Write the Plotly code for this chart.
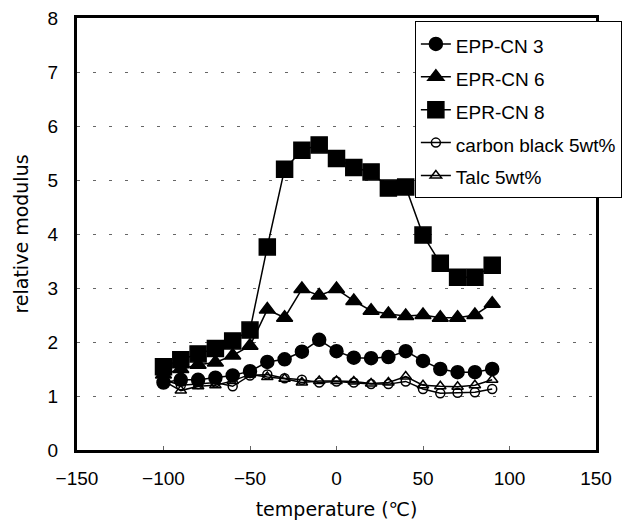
import plotly.graph_objects as go

temps = [-100, -90, -80, -70, -60, -50, -40, -30, -20, -10, 0, 10, 20, 30, 40, 50, 60, 70, 80, 90]
epp_cn3 = [1.25, 1.3, 1.3, 1.34, 1.38, 1.46, 1.63, 1.68, 1.82, 2.04, 1.83, 1.71, 1.7, 1.72, 1.83, 1.65, 1.5, 1.44, 1.44, 1.5]
epr_cn6 = [1.4, 1.5, 1.58, 1.62, 1.75, 1.93, 2.6, 2.45, 2.98, 2.86, 2.98, 2.76, 2.58, 2.52, 2.48, 2.5, 2.45, 2.45, 2.5, 2.71]
epr_cn8 = [1.54, 1.67, 1.78, 1.88, 2.02, 2.22, 3.76, 5.2, 5.55, 5.65, 5.4, 5.23, 5.15, 4.85, 4.87, 3.98, 3.46, 3.2, 3.2, 3.42]
carbon_black = [1.3, 1.2, 1.22, 1.25, 1.18, 1.38, 1.4, 1.33, 1.3, 1.25, 1.27, 1.25, 1.22, 1.22, 1.27, 1.13, 1.05, 1.06, 1.07, 1.13]
talc = [1.28, 1.1, 1.18, 1.2, 1.28, 1.4, 1.35, 1.32, 1.25, 1.28, 1.28, 1.27, 1.23, 1.25, 1.36, 1.2, 1.18, 1.17, 1.2, 1.3]

names = ["EPP-CN 3", "EPR-CN 6", "EPR-CN 8", "carbon black 5wt%", "Talc 5wt%"]
series = [epp_cn3, epr_cn6, epr_cn8, carbon_black, talc]
symbols = ["circle", "triangle-up", "square", "circle-open", "triangle-up-open"]
sizes = [13, 14, 16, 9, 10]

fig = go.Figure()
for name, ys, sym, sz in zip(names, series, symbols, sizes):
    fig.add_trace(go.Scatter(
        x=temps, y=ys,
        name='<span style="font-size:19px">' + name + "</span>",
        mode="lines+markers",
        line=dict(color="black", width=1.5),
        marker=dict(symbol=sym, size=sz, color="black",
                    line=dict(color="black", width=1.5)),
    ))

font = "Liberation Sans, Arial, sans-serif"
title_font = "DejaVu Sans, Liberation Sans, sans-serif"
fig.update_layout(
    width=639, height=524,
    margin=dict(l=77, r=43, t=18, b=74),
    plot_bgcolor="white", paper_bgcolor="white",
    font=dict(family=font, size=19, color="black"),
    showlegend=True,
    legend=dict(x=0.651, y=0.992, xanchor="left", yanchor="top",
                bgcolor="white", bordercolor="black", borderwidth=1,
                font=dict(size=23, family=font), tracegroupgap=0),
    xaxis=dict(range=[-150, 150], tickvals=[-150, -100, -50, 0, 50, 100, 150],
               ticktext=["\u2212150", "\u2212100", "\u221250", "0", "50", "100", "150"],
               showgrid=False, zeroline=False, automargin=False,
               showline=True, linecolor="black", linewidth=3, mirror=True,
               ticks="inside", ticklen=4, tickcolor="#666666", tickwidth=1,
               ticklabelstandoff=9,
               tickfont=dict(size=19),
               title=dict(text="temperature (\u2103)", font=dict(size=19, family=title_font), standoff=15)),
    yaxis=dict(range=[0, 8], dtick=1, showgrid=True, gridcolor="#666666",
               griddash="3px,13px", gridwidth=1, zeroline=False, automargin=False,
               showline=True, linecolor="black", linewidth=3, mirror=True,
               ticks="", tickfont=dict(size=19), ticklabelstandoff=12,
               title=dict(text="relative modulus", font=dict(size=19, family=title_font), standoff=14)),
)

fig.write_html("out.html")
